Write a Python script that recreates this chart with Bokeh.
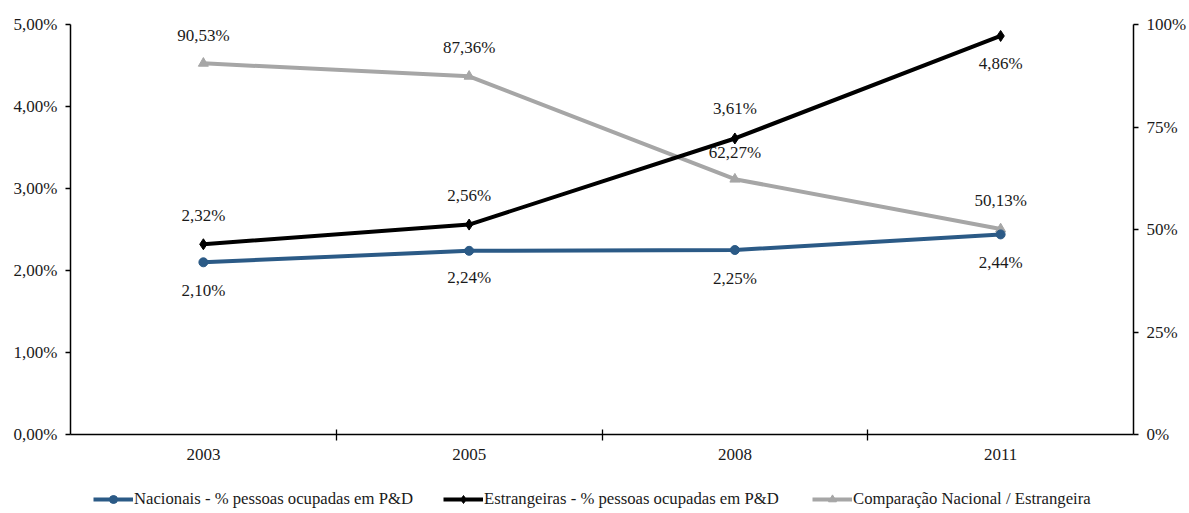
from bokeh.plotting import figure
from bokeh.layouts import column
from bokeh.models import (Range1d, LinearAxis, FixedTicker, Legend, LegendItem,
                          ColumnDataSource)
from bokeh.core.properties import value
from bokeh.embed import file_html
from bokeh.resources import INLINE

# --- data ---------------------------------------------------------------
years = ["2003", "2005", "2008", "2011"]
nacionais = [2.10, 2.24, 2.25, 2.44]          # % pessoas ocupadas em P&D
estrangeiras = [2.32, 2.56, 3.61, 4.86]       # % pessoas ocupadas em P&D
comparacao = [90.53, 87.36, 62.27, 50.13]     # nacional / estrangeira (%)

series_names = ["Nacionais - % pessoas ocupadas em P&D",
                "Estrangeiras - % pessoas ocupadas em P&D",
                "Comparação Nacional / Estrangeira"]

left_ticks = [0, 1, 2, 3, 4, 5]
right_ticks = [0, 25, 50, 75, 100]

# label placement (screen px, negative = above the point)
nac_off = [28, 27, 28, 28]
est_off = [-29, -29, -30, 28]
cmp_off = [-28, -29, -27, -28]

# left edge of each legend entry, px from the plot frame's left edge
legend_x = [23, 373, 742]

FONT = "Liberation Serif"
TXT = "#1a1a1a"
BLUE = "#2b5a86"
BLACK = "#000000"
GRAY = "#a6a6a6"
W = 1189


def fmt(v, dec):
    return f"{v:.{dec}f}".replace(".", ",") + "%"


xs = [i + 0.5 for i in range(len(years))]

src_nac = ColumnDataSource(dict(x=xs, y=nacionais,
                                t=[fmt(v, 2) for v in nacionais], off=nac_off))
src_est = ColumnDataSource(dict(x=xs, y=estrangeiras,
                                t=[fmt(v, 2) for v in estrangeiras], off=est_off))
src_cmp = ColumnDataSource(dict(x=xs, y=comparacao,
                                t=[fmt(v, 2) for v in comparacao], off=cmp_off))

# --- main chart ---------------------------------------------------------
p = figure(width=W, height=470, output_backend="svg", toolbar_location=None,
           x_range=Range1d(0, len(years)), y_range=Range1d(0, 5),
           min_border_left=70, min_border_right=55, min_border_top=24,
           min_border_bottom=36, y_axis_location=None, x_axis_location=None)
p.outline_line_color = None
p.xgrid.visible = False
p.ygrid.visible = False
p.extra_y_ranges = {"pct": Range1d(0, 100)}

xaxis = LinearAxis(ticker=FixedTicker(ticks=xs, minor_ticks=list(range(1, len(years)))),
                   major_label_overrides={x: y for x, y in zip(xs, years)})
xaxis.major_tick_in = 0
xaxis.major_tick_out = 0
xaxis.minor_tick_in = 5
xaxis.minor_tick_out = 6
xaxis.minor_tick_line_color = "black"
xaxis.minor_tick_line_width = 1.3
xaxis.major_label_standoff = 8
p.add_layout(xaxis, "below")

laxis = LinearAxis(ticker=FixedTicker(ticks=left_ticks, minor_ticks=[]),
                   major_label_overrides={t: fmt(t, 2) for t in left_ticks})
laxis.major_tick_in = 0
laxis.major_tick_out = 5
laxis.major_label_standoff = 8
p.add_layout(laxis, "left")

raxis = LinearAxis(y_range_name="pct",
                   ticker=FixedTicker(ticks=right_ticks, minor_ticks=[]),
                   major_label_overrides={t: f"{t}%" for t in right_ticks})
raxis.major_tick_in = 0
raxis.major_tick_out = 5
raxis.major_label_standoff = 8
p.add_layout(raxis, "right")

for ax in (xaxis, laxis, raxis):
    ax.axis_line_color = "black"
    ax.axis_line_width = 1.5
    ax.major_tick_line_color = "black"
    ax.major_tick_line_width = 1.3
    ax.major_label_text_font = FONT
    ax.major_label_text_font_size = "17px"
    ax.major_label_text_color = TXT
xaxis.major_tick_line_color = None


def draw_series(fig, **kw):
    """Lines and markers of the three series; returns (line, marker) pairs."""
    lc = fig.line("x", "y", source=src_cmp, line_color=GRAY, line_width=4, **kw.get("cmp", {}))
    mc = fig.scatter("x", "y", source=src_cmp, marker="triangle", size=10,
                     fill_color=GRAY, line_color=GRAY, **kw.get("cmp", {}))
    le = fig.line("x", "y", source=src_est, line_color=BLACK, line_width=4)
    me = fig.scatter("x", "y", source=src_est, marker="diamond", size=11,
                     fill_color=BLACK, line_color=BLACK)
    ln = fig.line("x", "y", source=src_nac, line_color=BLUE, line_width=4)
    mn = fig.scatter("x", "y", source=src_nac, marker="circle", size=9,
                     fill_color=BLUE, line_color=BLUE)
    return [(ln, mn), (le, me), (lc, mc)]


draw_series(p, cmp=dict(y_range_name="pct"))

text_kw = dict(text="t", y_offset="off", text_align="center",
               text_baseline="middle", text_font=value(FONT),
               text_font_size="17px", text_color=TXT)
p.text("x", "y", source=src_nac, **text_kw)
p.text("x", "y", source=src_est, **text_kw)
p.text("x", "y", source=src_cmp, y_range_name="pct", **text_kw)

# --- legend strip -------------------------------------------------------
# same series, but with an x range that keeps the marks out of view so only
# the legend entries show
q = figure(width=W, height=43, output_backend="svg", toolbar_location=None,
           x_range=Range1d(100, 101), y_range=Range1d(0, 1),
           min_border=0, x_axis_location=None, y_axis_location=None)
q.outline_line_color = None
q.xgrid.visible = False
q.ygrid.visible = False
pairs = draw_series(q)

for name, (ln, mk), lx in zip(series_names, pairs, legend_x):
    lg = Legend(items=[LegendItem(label=name, renderers=[ln, mk])],
                location=(lx, 4), orientation="horizontal")
    lg.label_text_font = FONT
    lg.label_text_font_size = "16.7px"
    lg.label_text_color = TXT
    lg.glyph_width = 40
    lg.glyph_height = 20
    lg.label_standoff = 1
    lg.padding = 0
    lg.margin = 0
    lg.border_line_color = None
    lg.background_fill_alpha = 0
    q.add_layout(lg, "center")

layout = column(p, q, spacing=0)
open("out.html", "w").write(file_html(layout, INLINE))
